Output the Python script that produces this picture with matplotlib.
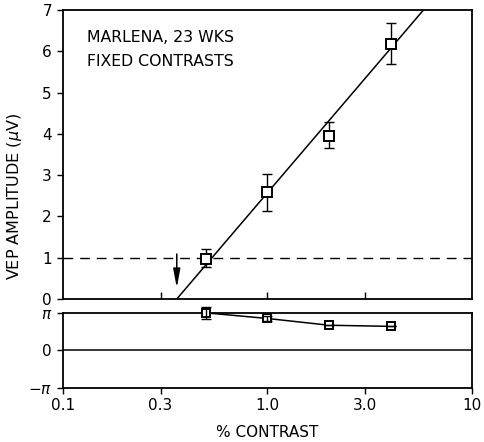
import numpy as np
import matplotlib
matplotlib.use("Agg")
import matplotlib.pyplot as plt

plt.rcParams['font.family'] = ['DejaVu Sans']

contrast = [0.5, 1.0, 2.0, 4.0]
amplitude = [0.98, 2.58, 3.95, 6.18]
amp_lo = [0.77, 2.12, 3.65, 5.68]
amp_hi = [1.22, 3.03, 4.28, 6.68]
phase = [1.0*np.pi, 0.85*np.pi, 0.67*np.pi, 0.64*np.pi]
phase_err = [0.16*np.pi, 0.06*np.pi, 0.0, 0.0]
threshold = 0.36
slope = 5.8  # uV per decade
noise_level = 1.0

fig = plt.figure(figsize=(4.85, 4.42), dpi=100)
ax = fig.add_axes([0.130, 0.3235, 0.843, 0.654])
ax2 = fig.add_axes([0.130, 0.1222, 0.843, 0.170])

for a in (ax, ax2):
    a.set_xscale('log')
    a.set_xlim(0.1, 10)
    for s in a.spines.values():
        s.set_linewidth(1.3)

c = np.array(contrast)
lo = np.array(amplitude) - np.array(amp_lo)
hi = np.array(amp_hi) - np.array(amplitude)
ax.errorbar(c, amplitude, yerr=[lo, hi], fmt='none', ecolor='black',
            elinewidth=1.0, capsize=3.5, capthick=1.0, zorder=3)
ax.plot(c, amplitude, 's', mfc='white', mec='black', mew=1.4, ms=6.5, zorder=4)

xf = np.logspace(np.log10(threshold), np.log10(10), 100)
ax.plot(xf, slope*np.log10(xf/threshold), color='black', lw=1.1, zorder=2)
ax.axhline(noise_level, color='black', lw=1.0, ls=(0, (7, 5)))
ax.annotate('', xy=(threshold, 0.27), xytext=(threshold, 1.09),
            arrowprops=dict(arrowstyle='-|>,head_length=0.75,head_width=0.14',
                            color='black', lw=1.1,
                            mutation_scale=15, shrinkA=0, shrinkB=0))

ax.set_ylim(0, 7)
ax.set_yticks(range(0, 8))
ax.set_xticks([0.3, 1.0, 3.0])
ax.set_xticklabels([])
ax.xaxis.set_minor_locator(matplotlib.ticker.NullLocator())
ax.tick_params(axis='x', direction='in', length=5, width=1.0)
ax.tick_params(axis='y', direction='out', length=4, width=1.0, labelsize=11, pad=4)
ax.set_ylabel('VEP AMPLITUDE ($\\mu$V)', fontsize=11.5)
ax.yaxis.set_label_coords(-0.095, 0.356)
ax.text(0.058, 0.905, 'MARLENA, 23 WKS', transform=ax.transAxes, fontsize=11.3,
        va='center')
ax.text(0.058, 0.820, 'FIXED CONTRASTS', transform=ax.transAxes, fontsize=11.3,
        va='center')

ax2.errorbar(c, phase, yerr=phase_err, fmt='none', ecolor='black',
             elinewidth=1.0, capsize=3.5, capthick=1.0, zorder=5, clip_on=False)
ax2.plot(c, phase, '-s', color='black', mfc='white', mec='black', mew=1.4,
         ms=5.5, lw=1.1, zorder=4, clip_on=False)
ax2.axhline(0, color='black', lw=1.1)
ax2.set_ylim(-np.pi, np.pi)
ax2.set_yticks([-np.pi, 0, np.pi])
ax2.set_yticklabels(['$-\\pi$', '0', '$\\pi$'])
ax2.set_xticks([0.1, 0.3, 1.0, 3.0, 10])
ax2.set_xticklabels(['0.1', '0.3', '1.0', '3.0', '10'])
ax2.xaxis.set_minor_locator(matplotlib.ticker.NullLocator())
ax2.tick_params(axis='x', direction='out', length=4, width=1.0, labelsize=11, pad=3)
ax2.tick_params(axis='y', direction='out', length=4, width=1.0, labelsize=11, pad=4)
ax2.set_xlabel('% CONTRAST', fontsize=11, labelpad=9)

fig.savefig('out.png', dpi=100)
